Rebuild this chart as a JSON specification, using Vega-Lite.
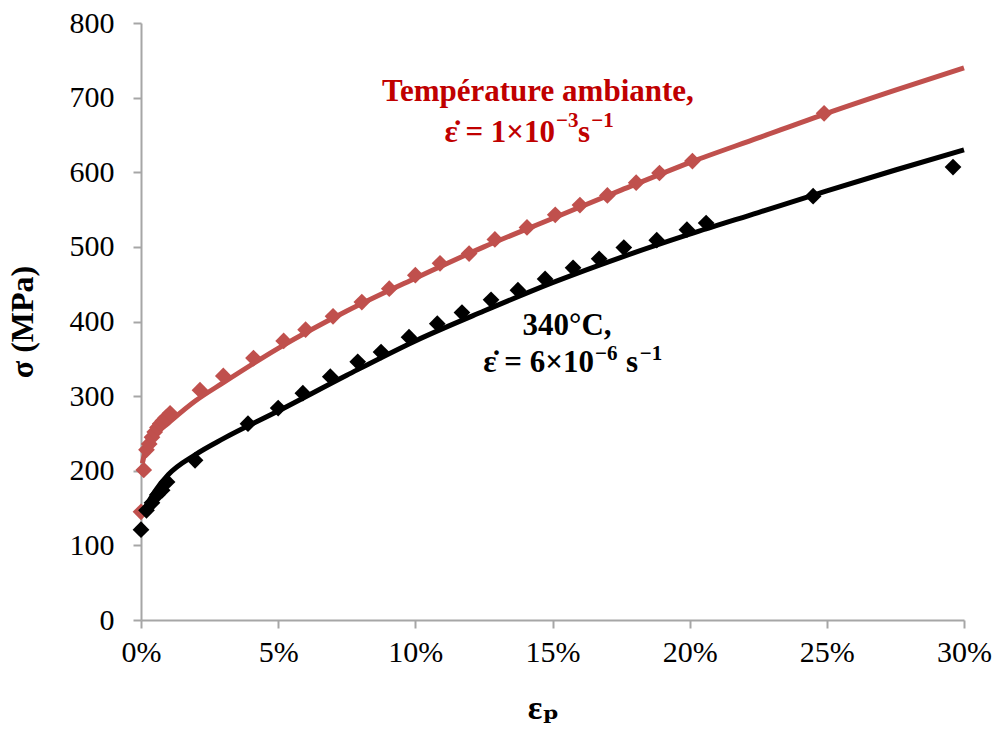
{
  "$schema": "https://vega.github.io/schema/vega-lite/v6.json",
  "autosize": {"type": "none"},
  "padding": {"left": 141, "top": 23, "right": 28, "bottom": 123},
  "width": 823,
  "height": 597,
  "background": "white",
  "config": {
    "view": {"stroke": null},
    "font": "Liberation Serif, DejaVu Serif, serif",
    "axis": {"grid": false, "domainColor": "#a6a6a6", "tickColor": "#a6a6a6", "domainWidth": 2, "tickWidth": 2, "labelFont": "Liberation Serif, DejaVu Serif, serif", "titleFont": "Liberation Serif, DejaVu Serif, serif", "labelColor": "#000000", "titleColor": "#000000"}
  },
  "datasets": {
    "redPts": [
      {"e": 0.0, "s": 145}, {"e": 0.001, "s": 201}, {"e": 0.002, "s": 228}, {"e": 0.003, "s": 236},
      {"e": 0.004, "s": 245}, {"e": 0.005, "s": 252}, {"e": 0.006, "s": 258}, {"e": 0.007, "s": 263},
      {"e": 0.008, "s": 267}, {"e": 0.009, "s": 271}, {"e": 0.0106, "s": 277}, {"e": 0.0215, "s": 308},
      {"e": 0.030, "s": 327}, {"e": 0.041, "s": 351}, {"e": 0.052, "s": 374}, {"e": 0.060, "s": 389},
      {"e": 0.070, "s": 407}, {"e": 0.0805, "s": 426}, {"e": 0.0905, "s": 444}, {"e": 0.100, "s": 462},
      {"e": 0.109, "s": 478}, {"e": 0.1196, "s": 491}, {"e": 0.129, "s": 510}, {"e": 0.1407, "s": 526},
      {"e": 0.151, "s": 543}, {"e": 0.160, "s": 556}, {"e": 0.170, "s": 569}, {"e": 0.1805, "s": 586},
      {"e": 0.189, "s": 599}, {"e": 0.201, "s": 615}, {"e": 0.249, "s": 679}
    ],
    "redLine": [
      {"e": 0.0005, "s": 210}, {"e": 0.002, "s": 232}, {"e": 0.005, "s": 248}, {"e": 0.01, "s": 264},
      {"e": 0.02, "s": 294}, {"e": 0.03, "s": 318}, {"e": 0.05, "s": 364}, {"e": 0.075, "s": 414},
      {"e": 0.10, "s": 458}, {"e": 0.125, "s": 500}, {"e": 0.15, "s": 538}, {"e": 0.175, "s": 576},
      {"e": 0.20, "s": 613}, {"e": 0.225, "s": 646}, {"e": 0.25, "s": 679}, {"e": 0.275, "s": 710},
      {"e": 0.30, "s": 740}
    ],
    "blackPts": [
      {"e": 0.0, "s": 121}, {"e": 0.002, "s": 147}, {"e": 0.004, "s": 157}, {"e": 0.006, "s": 168},
      {"e": 0.0077, "s": 174}, {"e": 0.0095, "s": 185}, {"e": 0.0197, "s": 214}, {"e": 0.039, "s": 263},
      {"e": 0.050, "s": 284}, {"e": 0.059, "s": 304}, {"e": 0.069, "s": 326}, {"e": 0.079, "s": 346},
      {"e": 0.0875, "s": 359}, {"e": 0.0977, "s": 379}, {"e": 0.108, "s": 397}, {"e": 0.117, "s": 412},
      {"e": 0.1276, "s": 429}, {"e": 0.1374, "s": 442}, {"e": 0.1473, "s": 457}, {"e": 0.1575, "s": 472},
      {"e": 0.167, "s": 484}, {"e": 0.176, "s": 499}, {"e": 0.188, "s": 509}, {"e": 0.199, "s": 523},
      {"e": 0.206, "s": 532}, {"e": 0.245, "s": 568}, {"e": 0.296, "s": 607}
    ],
    "blackLine": [
      {"e": 0.0005, "s": 143}, {"e": 0.005, "s": 172}, {"e": 0.01, "s": 195}, {"e": 0.02, "s": 222},
      {"e": 0.03, "s": 243}, {"e": 0.05, "s": 280}, {"e": 0.075, "s": 328}, {"e": 0.10, "s": 374},
      {"e": 0.125, "s": 414}, {"e": 0.15, "s": 452}, {"e": 0.175, "s": 486}, {"e": 0.20, "s": 517},
      {"e": 0.225, "s": 546}, {"e": 0.25, "s": 575}, {"e": 0.275, "s": 603}, {"e": 0.30, "s": 630}
    ],
    "annCenter": [
      {"e": 0.1447, "s": 696, "t": "Température ambiante,", "c": "red"},
      {"e": 0.1553, "s": 382, "t": "340°C,", "c": "black"}
    ],
    "annRight": [
      {"e": 0.1509, "s": 641, "t": "ε̇ = 1×10", "c": "red"},
      {"e": 0.1651, "s": 332, "t": "ε̇ = 6×10", "c": "black"}
    ],
    "annLeft": [
      {"e": 0.1593, "s": 641, "t": "s", "c": "red"},
      {"e": 0.1768, "s": 332, "t": "s", "c": "black"}
    ],
    "annSup": [
      {"e": 0.1513, "s": 660, "t": "−3", "c": "red"},
      {"e": 0.1641, "s": 660, "t": "−1", "c": "red"},
      {"e": 0.1655, "s": 349, "t": "−6", "c": "black"},
      {"e": 0.1818, "s": 349, "t": "−1", "c": "black"}
    ]
  },
  "encoding": {
    "x": {"field": "e", "type": "quantitative", "scale": {"domain": [0, 0.3], "nice": false},
      "axis": {"values": [0, 0.05, 0.1, 0.15, 0.2, 0.25, 0.3], "format": ".0%", "title": "εₚ", "titleFontSize": 34, "titleFontWeight": "bold", "titlePadding": 24, "titleX": 402, "labelFontSize": 30, "labelPadding": 9, "tickSize": 8, "labelFlush": false}},
    "y": {"field": "s", "type": "quantitative", "scale": {"domain": [0, 800], "nice": false},
      "axis": {"values": [0, 100, 200, 300, 400, 500, 600, 700, 800], "title": "σ  (MPa)", "titleFontSize": 32, "titleFontWeight": "bold", "titlePadding": 30, "labelFontSize": 30, "labelPadding": 19, "tickSize": 8}}
  },
  "layer": [
    {"data": {"name": "redLine"}, "mark": {"type": "line", "color": "#C0504D", "strokeWidth": 5, "interpolate": "monotone"}},
    {"data": {"name": "redPts"}, "mark": {"type": "point", "shape": "diamond", "filled": true, "color": "#C0504D", "size": 280, "opacity": 1}},
    {"data": {"name": "blackLine"}, "mark": {"type": "line", "color": "#000000", "strokeWidth": 5, "interpolate": "monotone"}},
    {"data": {"name": "blackPts"}, "mark": {"type": "point", "shape": "diamond", "filled": true, "color": "#000000", "size": 280, "opacity": 1}},
    {"data": {"name": "annCenter"}, "mark": {"type": "text", "fontSize": 31, "fontWeight": "bold", "align": "center", "baseline": "alphabetic"},
      "encoding": {"text": {"field": "t"}, "color": {"field": "c", "type": "nominal", "scale": {"domain": ["red", "black"], "range": ["#C00000", "#000000"]}, "legend": null}}},
    {"data": {"name": "annRight"}, "mark": {"type": "text", "fontSize": 31, "fontWeight": "bold", "align": "right", "baseline": "alphabetic"},
      "encoding": {"text": {"field": "t"}, "color": {"field": "c", "type": "nominal", "scale": {"domain": ["red", "black"], "range": ["#C00000", "#000000"]}, "legend": null}}},
    {"data": {"name": "annLeft"}, "mark": {"type": "text", "fontSize": 31, "fontWeight": "bold", "align": "left", "baseline": "alphabetic"},
      "encoding": {"text": {"field": "t"}, "color": {"field": "c", "type": "nominal", "scale": {"domain": ["red", "black"], "range": ["#C00000", "#000000"]}, "legend": null}}},
    {"data": {"name": "annSup"}, "mark": {"type": "text", "fontSize": 21, "fontWeight": "bold", "align": "left", "baseline": "alphabetic"},
      "encoding": {"text": {"field": "t"}, "color": {"field": "c", "type": "nominal", "scale": {"domain": ["red", "black"], "range": ["#C00000", "#000000"]}, "legend": null}}}
  ]
}
